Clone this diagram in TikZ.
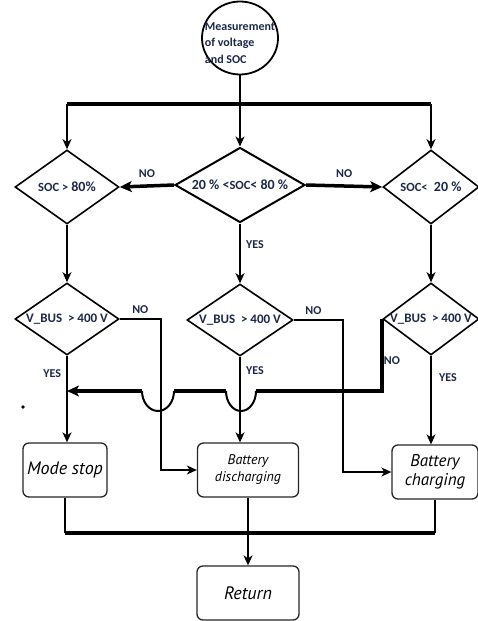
\documentclass[tikz,border=0pt]{standalone}
\usepackage{fontspec}
\setmainfont{Carlito}
\newfontfamily\boxfont{PT Sans}
\usetikzlibrary{shapes.geometric, arrows.meta, calc}
\definecolor{tnavy}{RGB}{28,40,72}
\newcommand{\smtxt}[1]{{\fontsize{12.5}{14}\selectfont #1}}
\tikzset{
    decision/.style={diamond, draw=black, line width=1.6pt, inner xsep=-6pt, inner ysep=0pt, shape aspect=1.4, minimum width=104pt, minimum height=74pt, font=\bfseries\fontsize{14}{16}\selectfont, text=tnavy},
    actbox/.style={rectangle, rounded corners=6pt, draw=black!85, line width=1.3pt, minimum height=54pt, align=center, font=\boxfont\itshape\fontsize{17}{19}\selectfont},
    flow/.style={-{Stealth[length=10pt, width=9pt, inset=3pt]}, line width=1.5pt},
    thickflow/.style={-{Stealth[length=12pt, width=11pt, inset=3pt]}, line width=3.5pt},
    conn/.style={line width=1.5pt},
    busline/.style={line width=4pt},
    lbl/.style={font=\bfseries\fontsize{12}{14}\selectfont, text=tnavy},
}

\begin{document}
\begin{tikzpicture}[x=1pt, y=-1pt]
\useasboundingbox (0,0) rectangle (478,621);

% Start: measurement
\node[ellipse, draw, line width=1.8pt, minimum width=76pt, minimum height=73pt, inner sep=0pt] (meas) at (240,38) {};
\node[font=\bfseries\fontsize{12}{16.5}\selectfont, text=tnavy, align=left] at (240,43) {Measurement\\of voltage\\and SOC};

% Row 1: SOC tests
\node[decision] (dl) at (67,187) {\smtxt{SOC >} 80\%};
\node[decision, minimum width=130pt, minimum height=75pt, shape aspect=1.73, line width=2pt] (dc) at (240,185) {20 \% <\smtxt{SOC}< 80 \%};
\node[decision, minimum width=96pt, shape aspect=1.3] (dr) at (431,187) {\smtxt{SOC<} \ 20 \%};

% Row 2: bus voltage tests
\node[decision, minimum height=72pt, font=\bfseries\fontsize{13}{15}\selectfont] (vl) at (67,319) {V\_BUS \ > 400 V};
\node[decision, minimum height=72pt, minimum width=106pt, font=\bfseries\fontsize{13}{15}\selectfont] (vc) at (240,320) {V\_BUS \ > 400 V};
\node[decision, minimum height=72pt, minimum width=96pt, shape aspect=1.33, font=\bfseries\fontsize{13}{15}\selectfont] (vr) at (431,319) {V\_BUS \ > 400 V};

% Row 3: actions
\node[actbox, minimum width=84pt, font=\boxfont\itshape\fontsize{18}{20}\selectfont] (ms) at (65,470) {Mode stop};
\node[actbox, minimum width=101pt, font=\boxfont\itshape\fontsize{14}{17}\selectfont] (bd) at (248,470) {Battery\\discharging};
\node[actbox, minimum width=86pt] (bc) at (435,472) {Battery\\charging};
\node[actbox, minimum width=102pt, font=\boxfont\itshape\fontsize{18}{20}\selectfont] (ret) at (248,593) {Return};

% Top bus
\coordinate (tbus) at (240,104);
\draw[conn] (meas.south) -- (tbus);
\draw[busline] (dl.north |- tbus) -- (dr.north |- tbus);
\draw[flow] (dl.north |- tbus) -- (dl.north);
\draw[flow] (tbus) -- (dc.north);
\draw[flow] (dr.north |- tbus) -- (dr.north);

% Row 1 links
\draw[thickflow] (dc.west) -- (dl.east) node[midway, above=3pt, lbl] {NO};
\draw[thickflow] (dc.east) -- (dr.west) node[midway, above=3pt, lbl] {NO};
\draw[flow] (dl.south) -- (vl.north);
\draw[flow] (dc.south) -- (vc.north) node[pos=0.35, right=2pt, lbl] {YES};
\draw[flow] (dr.south) -- (vr.north);

% Row 2 links
\draw[flow] (vl.south) -- (vl.south |- ms.north) node[pos=0.2, left=2pt, lbl] {YES};
\draw[flow] (vc.south) -- (vc.south |- bd.north) node[pos=0.16, right=2pt, lbl] {YES};
\draw[flow] (vr.south) -- (vr.south |- bc.north) node[pos=0.25, right=4pt, lbl] {YES};
\draw[flow] (vl.east) -- ++(41,0) node[pos=0.5, above=1pt, lbl] {NO} |- (bd.west);
\draw[flow] (vc.east) -- ++(49,0) node[pos=0.4, above=1pt, lbl] {NO} |- (bc.west);

% Return line from right test, hopping over two lines
\coordinate (hopL) at (158,391);
\coordinate (hopC) at (241,391);
\draw[busline] (vr.west) |- ($(hopC)+(15,0)$) coordinate (hc1);
\node[lbl] at (392,361) {NO};
\draw[line width=2pt] (hc1) arc[start angle=0, end angle=-180, x radius=15pt, y radius=20pt] coordinate (hc2);
\draw[busline] (hc2) -- ($(hopL)+(16,0)$) coordinate (hl1);
\draw[line width=2pt] (hl1) arc[start angle=0, end angle=-180, x radius=16pt, y radius=20pt] coordinate (hl2);
\draw[thickflow] (hl2) -- (vl.south |- hopL);

% Bottom bus
\coordinate (bbus) at (248,533);
\draw[conn] (ms.south) -- (ms.south |- bbus);
\draw[conn] (bd.south) -- (bbus);
\draw[conn] (bc.south) -- (bc.south |- bbus);
\draw[busline] (ms.south |- bbus) -- (bc.south |- bbus);
\draw[flow] (bbus) -- (ret.north);

% stray dot
\fill (23,407) circle (1.8pt);

\end{tikzpicture}
\end{document}
